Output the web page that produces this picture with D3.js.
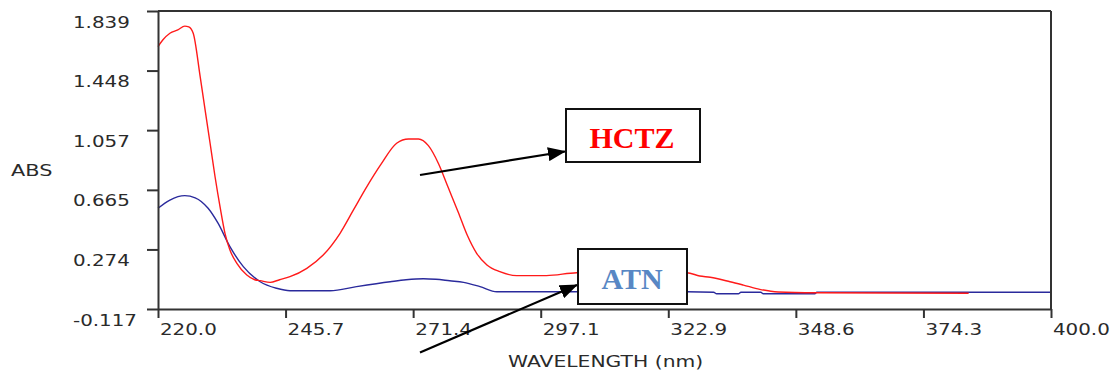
<!DOCTYPE html>
<html>
<head>
<meta charset="utf-8">
<script src="https://cdn.jsdelivr.net/npm/d3@7"></script>
<style>
  html, body { margin: 0; padding: 0; background: #fff; }
  svg { display: block; }
</style>
</head>
<body>
<svg id="chart" width="1113" height="372"></svg>
<script>
// ---- data ----
const hctzWavelength = [220.0, 221.0, 222.4, 224.0, 225.4, 226.2, 227.1, 228.5, 229.5, 230.5, 231.5, 232.5, 233.5, 234.5, 235.9, 237.9, 239.5, 240.6, 242.6, 244.5, 246.6, 250.0, 253.3, 256.7, 259.4, 262.1, 265.0, 268.1, 270.5, 272.5, 274.5, 276.5, 278.5, 280.5, 282.3, 284.2, 286.3, 288.9, 292.3, 298.3, 304.4, 315.0, 326.6, 329.2, 331.3, 335.3, 338.0, 341.3, 345.0, 352.7, 383.4];
const hctzAbs        = [1.605, 1.650, 1.693, 1.715, 1.740, 1.735, 1.693, 1.408, 1.189, 0.971, 0.751, 0.555, 0.380, 0.270, 0.183, 0.106, 0.075, 0.069, 0.058, 0.075, 0.095, 0.150, 0.237, 0.380, 0.533, 0.686, 0.835, 0.971, 0.999, 0.999, 0.955, 0.840, 0.680, 0.520, 0.370, 0.250, 0.172, 0.128, 0.102, 0.102, 0.121, 0.125, 0.121, 0.100, 0.091, 0.062, 0.040, 0.012, -0.005, -0.010, -0.014];

const atnWavelength = [220.0, 222.4, 225.4, 227.5, 230.1, 232.1, 234.5, 237.2, 240.6, 243.9, 246.6, 254.7, 260.0, 266.8, 270.0, 273.5, 276.0, 278.8, 281.6, 284.9, 288.3, 326.6, 332.0, 332.6, 337.0, 337.5, 341.5, 342.0, 352.4, 352.8, 400.0];
const atnAbs        = [0.544, 0.598, 0.627, 0.613, 0.544, 0.446, 0.292, 0.161, 0.062, 0.019, 0.003, 0.003, 0.030, 0.062, 0.075, 0.082, 0.078, 0.068, 0.058, 0.030, -0.004, -0.004, -0.007, -0.017, -0.017, -0.007, -0.007, -0.017, -0.017, -0.007, -0.007];

const xTickValues = [220, 245.714, 271.429, 297.143, 322.857, 348.571, 374.286, 400];
const xTickLabels = ["220.0", "245.7", "271.4", "297.1", "322.9", "348.6", "374.3", "400.0"];
const yTickValues = [-0.117, 0.274, 0.665, 1.057, 1.448, 1.839];
const yTickLabels = ["-0.117", "0.274", "0.665", "1.057", "1.448", "1.839"];

const seriesNames = ["HCTZ", "ATN"];
const xTitle = "WAVELENGTH (nm)";
const yTitle = "ABS";

// ---- layout ----
const plot = { left: 158, right: 1051, top: 11, bottom: 309 };
const axisColor = "#333";
const textColor = "#2a2a2a";

const svg = d3.select("#chart");
const x = d3.scaleLinear().domain([220, 400]).range([plot.left, plot.right]);
const y = d3.scaleLinear().domain([-0.117, 1.839]).range([plot.bottom, plot.top]);

function widen(sel, f) {
  sel.each(function () {
    const w = this.getComputedTextLength();
    d3.select(this).attr("textLength", w * f).attr("lengthAdjust", "spacingAndGlyphs");
  });
}

// curves
const line = d3.line().x(d => x(d[0])).y(d => y(d[1])).curve(d3.curveMonotoneX);
const atnPts = atnWavelength.map((w, i) => [w, atnAbs[i]]);
const hctzPts = hctzWavelength.map((w, i) => [w, hctzAbs[i]]);

svg.append("path").datum(atnPts).attr("d", line)
  .attr("fill", "none").attr("stroke", "#2a2a9c").attr("stroke-width", 1.4);
svg.append("path").datum(hctzPts).attr("d", line)
  .attr("fill", "none").attr("stroke", "#ff1a1a").attr("stroke-width", 1.4);

// frame (top & right)
svg.append("line").attr("x1", plot.left).attr("x2", plot.right).attr("y1", plot.top).attr("y2", plot.top)
  .attr("stroke", axisColor).attr("stroke-width", 2);
svg.append("line").attr("x1", plot.right).attr("x2", plot.right).attr("y1", plot.top).attr("y2", plot.bottom)
  .attr("stroke", axisColor).attr("stroke-width", 2);

// x axis
const xAxis = d3.axisBottom(x).tickValues(xTickValues)
  .tickFormat((d, i) => xTickLabels[i]).tickSize(9).tickSizeOuter(0);
const gx = svg.append("g").attr("transform", `translate(0,${plot.bottom})`).call(xAxis);
gx.select(".domain").attr("stroke", axisColor).attr("stroke-width", 2);
gx.selectAll(".tick line").attr("stroke", axisColor).attr("stroke-width", 2);
gx.selectAll(".tick text")
  .attr("font-family", "DejaVu Sans").attr("font-size", 16).attr("fill", textColor)
  .attr("text-anchor", "start").attr("x", 1.5).attr("y", 26).attr("dy", 0)
  .call(widen, 1.24);

// y axis
const yAxis = d3.axisLeft(y).tickValues(yTickValues)
  .tickFormat((d, i) => yTickLabels[i]).tickSize(11).tickSizeOuter(0);
const gy = svg.append("g").attr("transform", `translate(${plot.left},0)`).call(yAxis);
gy.select(".domain").attr("stroke", axisColor).attr("stroke-width", 2);
gy.selectAll(".tick line").attr("stroke", axisColor).attr("stroke-width", 2);
gy.selectAll(".tick text")
  .attr("font-family", "DejaVu Sans").attr("font-size", 16).attr("fill", textColor)
  .attr("text-anchor", "start").attr("x", 73 - plot.left).attr("y", 16).attr("dy", 0)
  .call(widen, 1.24);

// axis titles
svg.append("text").text(xTitle)
  .attr("x", 508).attr("y", 367)
  .attr("font-family", "DejaVu Sans").attr("font-size", 15.5).attr("fill", textColor)
  .call(widen, 1.31);
svg.append("text").text(yTitle)
  .attr("x", 11).attr("y", 176)
  .attr("font-family", "DejaVu Sans").attr("font-size", 16).attr("fill", textColor)
  .call(widen, 1.3);

// arrows
const defs = svg.append("defs");
defs.append("marker").attr("id", "arrowhead")
  .attr("markerUnits", "userSpaceOnUse")
  .attr("viewBox", "0 0 18 14").attr("refX", 17).attr("refY", 7)
  .attr("markerWidth", 18).attr("markerHeight", 14).attr("orient", "auto")
  .append("path").attr("d", "M0,0 L18,7 L0,14 Z").attr("fill", "#000");

const callouts = [
  { name: seriesNames[0], from: [420, 175], to: [565, 151.5], box: [566, 109, 134, 53], cx: 632, base: 148, color: "#ff0000" },
  { name: seriesNames[1], from: [420, 352.5], to: [577, 285], box: [578, 249, 109, 55], cx: 632, base: 288.5, color: "#5887c4" }
];

callouts.forEach(c => {
  svg.append("line")
    .attr("x1", c.from[0]).attr("y1", c.from[1]).attr("x2", c.to[0]).attr("y2", c.to[1])
    .attr("stroke", "#000").attr("stroke-width", 2.2).attr("marker-end", "url(#arrowhead)");
  svg.append("rect")
    .attr("x", c.box[0]).attr("y", c.box[1]).attr("width", c.box[2]).attr("height", c.box[3])
    .attr("fill", "#fff").attr("stroke", "#111").attr("stroke-width", 2);
  svg.append("text").text(c.name)
    .attr("x", c.cx).attr("y", c.base).attr("text-anchor", "middle")
    .attr("font-family", "Liberation Serif, Times New Roman, serif")
    .attr("font-weight", "bold").attr("font-size", 30).attr("fill", c.color);
});
</script>
</body>
</html>
